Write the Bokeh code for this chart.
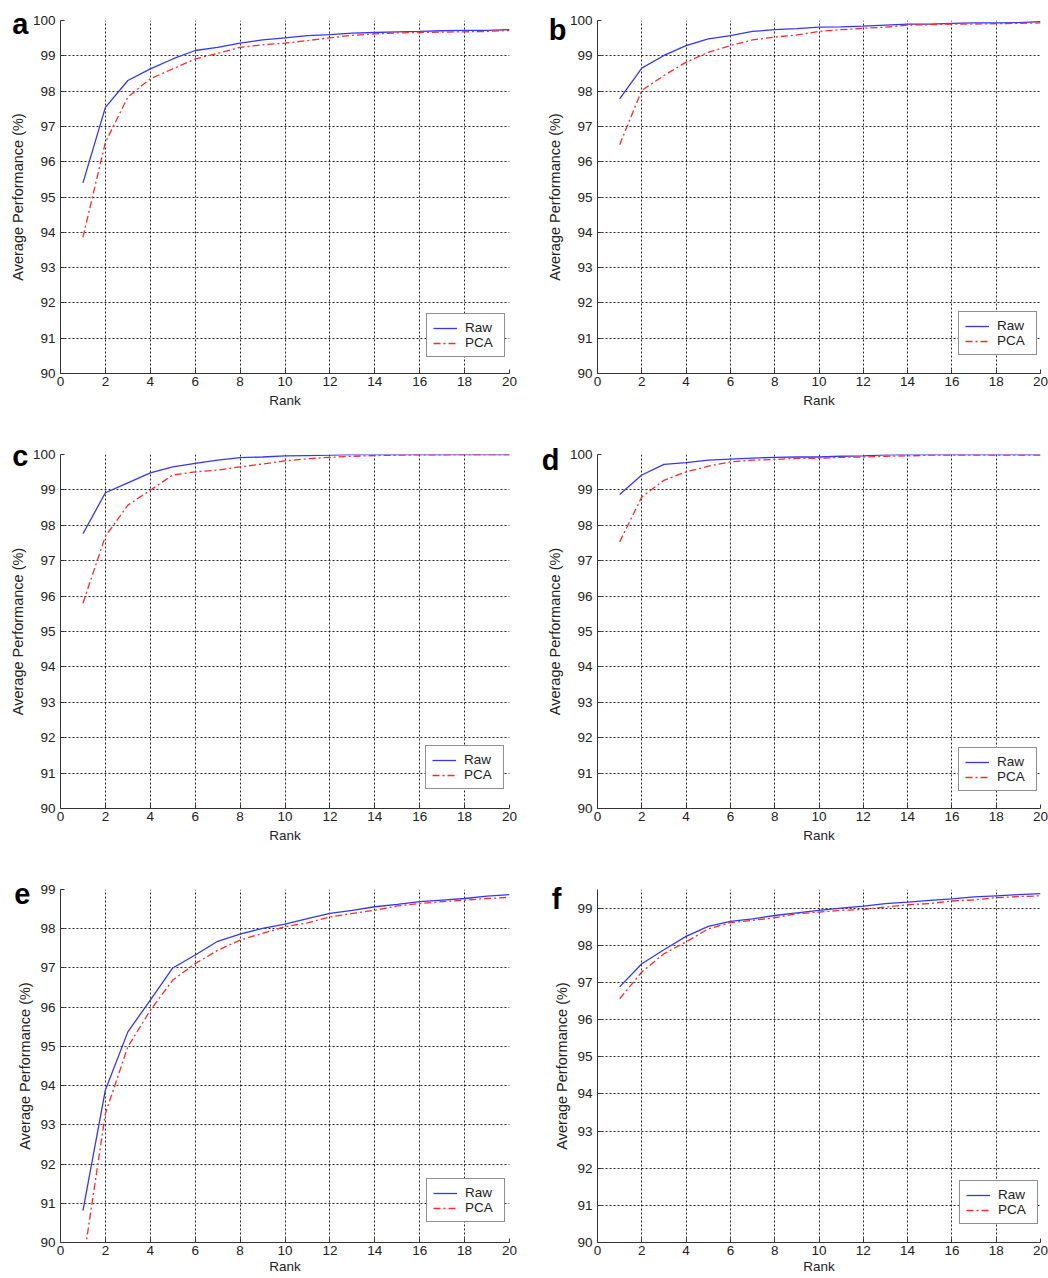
from bokeh.plotting import figure
from bokeh.layouts import gridplot
from bokeh.models import Range1d, FixedTicker, Legend, LegendItem, LinearAxis
from bokeh.embed import file_html
from bokeh.resources import INLINE

rank = list(range(1, 21))

raw_a = [95.40, 97.54, 98.30, 98.63, 98.91, 99.15, 99.24, 99.36, 99.45, 99.51,
         99.57, 99.60, 99.64, 99.66, 99.68, 99.69, 99.71, 99.72, 99.72, 99.74]
pca_a = [93.86, 96.55, 97.83, 98.35, 98.63, 98.91, 99.07, 99.24, 99.31, 99.36,
         99.43, 99.51, 99.58, 99.62, 99.65, 99.66, 99.67, 99.68, 99.69, 99.72]

raw_b = [97.78, 98.65, 99.01, 99.29, 99.48, 99.57, 99.69, 99.74, 99.77, 99.81,
         99.82, 99.84, 99.87, 99.90, 99.90, 99.92, 99.93, 99.93, 99.94, 99.97]
pca_b = [96.48, 98.02, 98.44, 98.82, 99.10, 99.29, 99.45, 99.53, 99.59, 99.69,
         99.74, 99.78, 99.81, 99.87, 99.88, 99.90, 99.90, 99.91, 99.92, 99.93]

raw_c = [97.76, 98.92, 99.20, 99.48, 99.65, 99.75, 99.84, 99.91, 99.93, 99.96,
         99.97, 99.98, 100.0, 100.0, 100.0, 100.0, 100.0, 100.0, 100.0, 100.0]
pca_c = [95.80, 97.69, 98.57, 98.99, 99.42, 99.51, 99.56, 99.65, 99.73, 99.82,
         99.88, 99.92, 99.95, 99.97, 99.98, 99.99, 99.99, 100.0, 100.0, 100.0]

raw_d = [98.87, 99.42, 99.72, 99.77, 99.84, 99.87, 99.90, 99.92, 99.93, 99.93,
         99.95, 99.96, 99.99, 100.0, 100.0, 100.0, 100.0, 100.0, 100.0, 100.0]
pca_d = [97.53, 98.80, 99.27, 99.51, 99.67, 99.79, 99.84, 99.86, 99.89, 99.89,
         99.92, 99.93, 99.95, 99.96, 99.98, 99.98, 99.98, 99.98, 99.98, 99.98]

raw_e = [90.81, 93.89, 95.37, 96.18, 97.00, 97.33, 97.68, 97.86, 98.01, 98.12,
         98.26, 98.39, 98.47, 98.56, 98.62, 98.69, 98.73, 98.77, 98.83, 98.87]
pca_e = [89.45, 93.29, 94.99, 95.92, 96.69, 97.11, 97.45, 97.71, 97.88, 98.05,
         98.15, 98.30, 98.39, 98.47, 98.58, 98.64, 98.69, 98.73, 98.77, 98.80]

raw_f = [96.88, 97.50, 97.88, 98.24, 98.51, 98.64, 98.71, 98.80, 98.87, 98.94,
         99.00, 99.05, 99.12, 99.16, 99.21, 99.25, 99.30, 99.33, 99.36, 99.39]
pca_f = [96.56, 97.28, 97.77, 98.09, 98.44, 98.61, 98.67, 98.74, 98.85, 98.89,
         98.94, 98.96, 99.03, 99.09, 99.12, 99.19, 99.22, 99.28, 99.31, 99.33]

panel_letters = ["a", "b", "c", "d", "e", "f"]
y_max = [100, 100, 100, 100, 99, 99.5]
y_ticks = [list(range(90, 101))] * 4 + [list(range(90, 100))] * 2
x_ticks = list(range(0, 21, 2))
series_names = ["Raw", "PCA"]

raws = [raw_a, raw_b, raw_c, raw_d, raw_e, raw_f]
pcas = [pca_a, pca_b, pca_c, pca_d, pca_e, pca_f]

# layout (style) settings per panel
sizes = [(524, 430), (524, 430), (524, 430), (524, 430), (524, 418), (524, 418)]
borders = [  # left, right, top, bottom
    (60, 15, 20, 57), (73, 8, 20, 57),
    (60, 15, 24, 52), (73, 8, 24, 52),
    (60, 15, 29, 36), (73, 8, 29, 36),
]
legend_pos = [(366, 16), (361, 18), (365, 19), (361, 17), (366, 20), (362, 18)]
# panel letter: vertical anchor (in axis units) and standoff shift
letter_y = [99.9, 99.73, 99.97, 99.84, 98.88, 99.24]
letter_shift = [-22, -23, -22, -16, -16, -10]

FONT = "Liberation Sans"
TXT = "#222222"

figs = []
for i in range(6):
    w, h = sizes[i]
    bl, br, bt, bb = borders[i]
    p = figure(width=w, height=h, output_backend="svg", toolbar_location=None,
               x_range=Range1d(0, 20), y_range=Range1d(90, y_max[i]),
               min_border_left=bl, min_border_right=br,
               min_border_top=bt, min_border_bottom=bb)
    p.outline_line_color = None
    p.background_fill_color = "white"
    p.border_fill_color = "white"

    p.xaxis.ticker = FixedTicker(ticks=x_ticks)
    p.yaxis.ticker = FixedTicker(ticks=y_ticks[i])
    p.xaxis.axis_label = "Rank"
    p.yaxis.axis_label = "Average Performance (%)"
    for ax in (p.xaxis, p.yaxis):
        ax.axis_line_color = "#333333"
        ax.axis_line_width = 1
        ax.major_tick_in = 4
        ax.major_tick_out = 0
        ax.major_tick_line_color = "#333333"
        ax.minor_tick_line_color = None
        ax.major_label_text_font = FONT
        ax.major_label_text_font_size = "13.5px"
        ax.major_label_text_color = TXT
        ax.axis_label_text_font = FONT
        ax.axis_label_text_font_style = "normal"
        ax.axis_label_text_color = TXT
    p.xaxis.axis_label_text_font_size = "13.5px"
    p.yaxis.axis_label_text_font_size = "14.5px"
    p.xaxis.major_label_standoff = 3
    p.xaxis.axis_label_standoff = 1 if i >= 4 else 4
    p.yaxis.major_label_standoff = 5
    p.yaxis.axis_label_standoff = 4

    p.grid.grid_line_color = "black"
    p.grid.grid_line_dash = "2 2"
    p.grid.grid_line_width = 1
    p.grid.grid_line_alpha = 0.85

    r1 = p.line(rank, raws[i], line_color="#3535ff", line_width=1.3)
    r2 = p.line(rank, pcas[i], line_color="#ff2a2a", line_width=1.3,
                line_dash="7 3 2 3")

    leg = Legend(items=[LegendItem(label=series_names[0], renderers=[r1]),
                        LegendItem(label=series_names[1], renderers=[r2])],
                 location=legend_pos[i])
    leg.border_line_color = "#222222"
    leg.border_line_width = 1
    leg.background_fill_color = "white"
    leg.background_fill_alpha = 1
    leg.padding = 6
    leg.spacing = 0
    leg.margin = 0
    leg.glyph_width = 24
    leg.glyph_height = 14
    leg.label_height = 14
    leg.label_width = 33
    leg.label_standoff = 8
    leg.label_text_font = FONT
    leg.label_text_font_size = "13.5px"
    leg.label_text_color = TXT
    p.add_layout(leg, "center")

    # panel letter drawn as the single label of an extra, line-less left axis
    ly = letter_y[i]
    lax = LinearAxis(ticker=FixedTicker(ticks=[ly]),
                     major_label_overrides={ly: panel_letters[i]})
    lax.axis_line_color = None
    lax.major_tick_line_color = None
    lax.minor_tick_line_color = None
    lax.major_tick_in = 0
    lax.major_tick_out = 0
    lax.major_label_standoff = letter_shift[i]
    lax.major_label_text_font = FONT
    lax.major_label_text_font_size = "29px"
    lax.major_label_text_font_style = "bold"
    lax.major_label_text_color = "black"
    p.add_layout(lax, "left")
    figs.append(p)

grid = gridplot([[figs[0], figs[1]], [figs[2], figs[3]], [figs[4], figs[5]]],
                toolbar_location=None)

open("out.html", "w").write(file_html(grid, INLINE))
